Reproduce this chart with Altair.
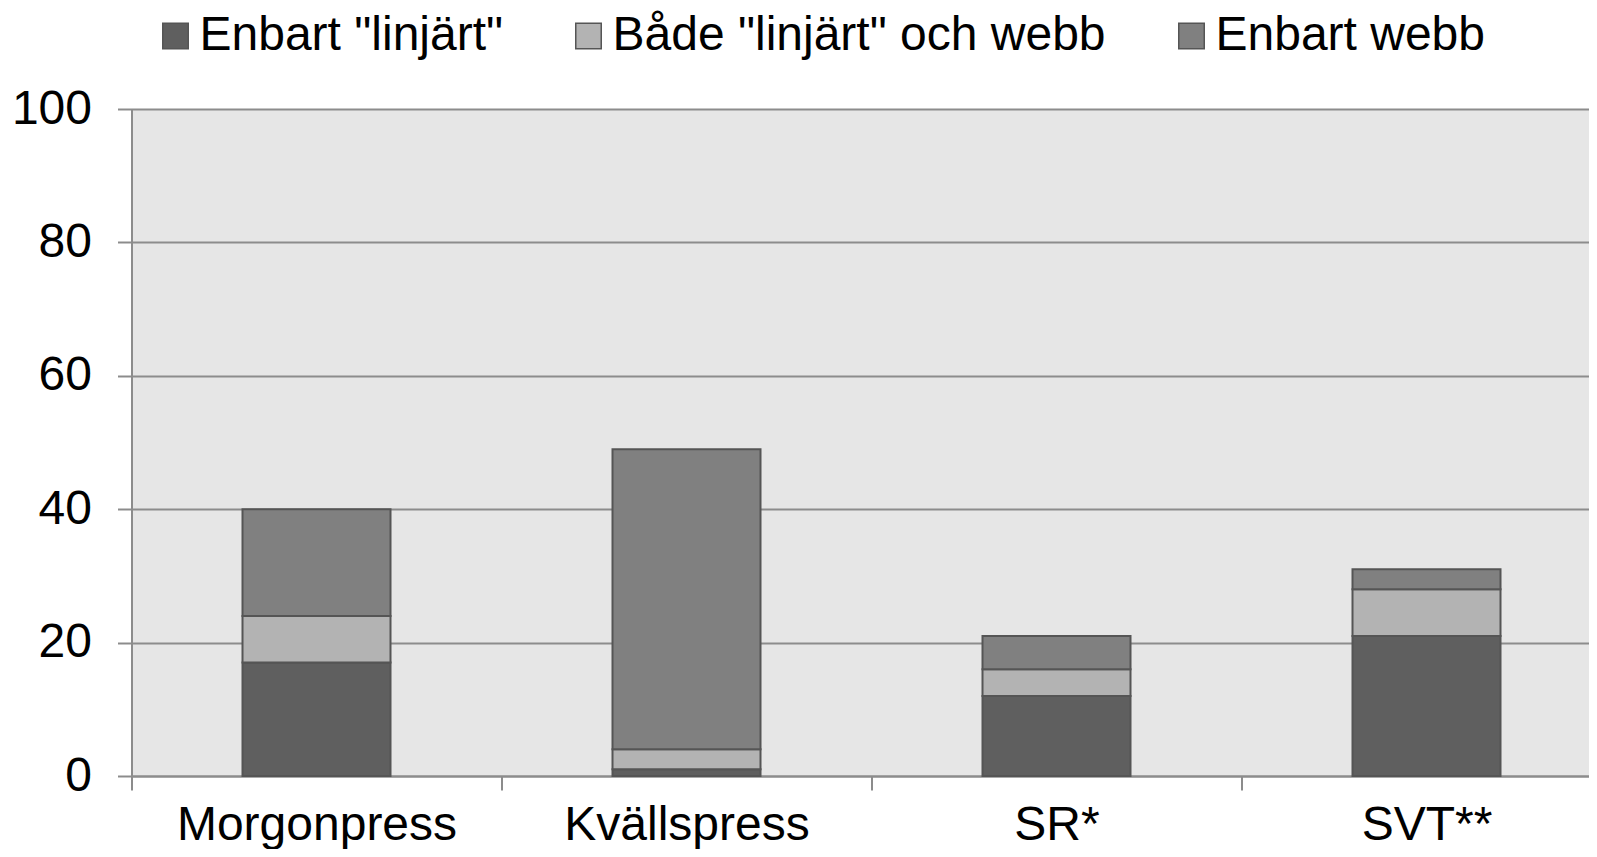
import altair as alt
import pandas as pd

categories = ["Morgonpress", "Kvällspress", "SR*", "SVT**"]
series = ['Enbart "linjärt"', 'Både "linjärt" och webb', "Enbart webb"]
only_linear = [17, 1, 12, 21]
both = [7, 3, 4, 7]
only_web = [16, 45, 5, 3]
colors = ["#5f5f5f", "#b3b3b3", "#808080"]
y_ticks = [0, 20, 40, 60, 80, 100]

rows = []
for i, c in enumerate(categories):
    for j, (s, vals) in enumerate(zip(series, [only_linear, both, only_web])):
        rows.append({"category": c, "series": s, "value": vals[i], "order": j})
df = pd.DataFrame(rows)

FONT = "Liberation Sans"
GRID = "#8c8c8c"
FS = 48

chart = alt.Chart(df).mark_bar(stroke="#555555", strokeWidth=2).encode(
    x=alt.X(
        "category:N",
        sort=categories,
        scale=alt.Scale(paddingInner=0.6, paddingOuter=0.2696, align=0.5564),
        axis=alt.Axis(
            title=None, labelAngle=0, bandPosition=0, tickOffset=-111,
            labelOffset=111, labelLimit=0,
            labelFont=FONT, labelFontSize=FS, labelColor="#000000",
            labelBaseline="alphabetic", labelPadding=49,
            tickSize=14, tickColor=GRID, tickWidth=2,
            domainColor=GRID, domainWidth=2, grid=False,
        ),
    ),
    y=alt.Y(
        "value:Q",
        stack="zero",
        scale=alt.Scale(domain=[0, 100], nice=False),
        axis=alt.Axis(
            title=None, values=y_ticks, labelLimit=0,
            labelFont=FONT, labelFontSize=FS, labelColor="#000000",
            labelPadding=26, tickSize=14, tickColor=GRID, tickWidth=2,
            domainColor=GRID, domainWidth=2,
            grid=True, gridColor=GRID, gridWidth=2,
        ),
    ),
    color=alt.Color(
        "series:N",
        sort=series,
        scale=alt.Scale(domain=series, range=colors),
        legend=alt.Legend(
            title=None, orient="none", direction="horizontal",
            legendX=20, legendY=-97, padding=0, labelLimit=0,
            labelFont=FONT, labelFontSize=FS, labelColor="#000000",
            labelOffset=0, columnPadding=61,
            symbolType="square", symbolSize=650,
            symbolStrokeColor="#555555", symbolStrokeWidth=1.5,
            symbolOpacity=1,
        ),
    ),
    order=alt.Order("order:Q"),
).properties(
    width=1457.5,
    height=667,
    autosize=alt.AutoSizeParams(type="none"),
    padding={"left": 123.5, "top": 101, "right": 0, "bottom": 73},
).configure_view(fill="#e6e6e6", stroke=None)

chart.save("out.html", embed_options={"renderer": "svg", "actions": False})
